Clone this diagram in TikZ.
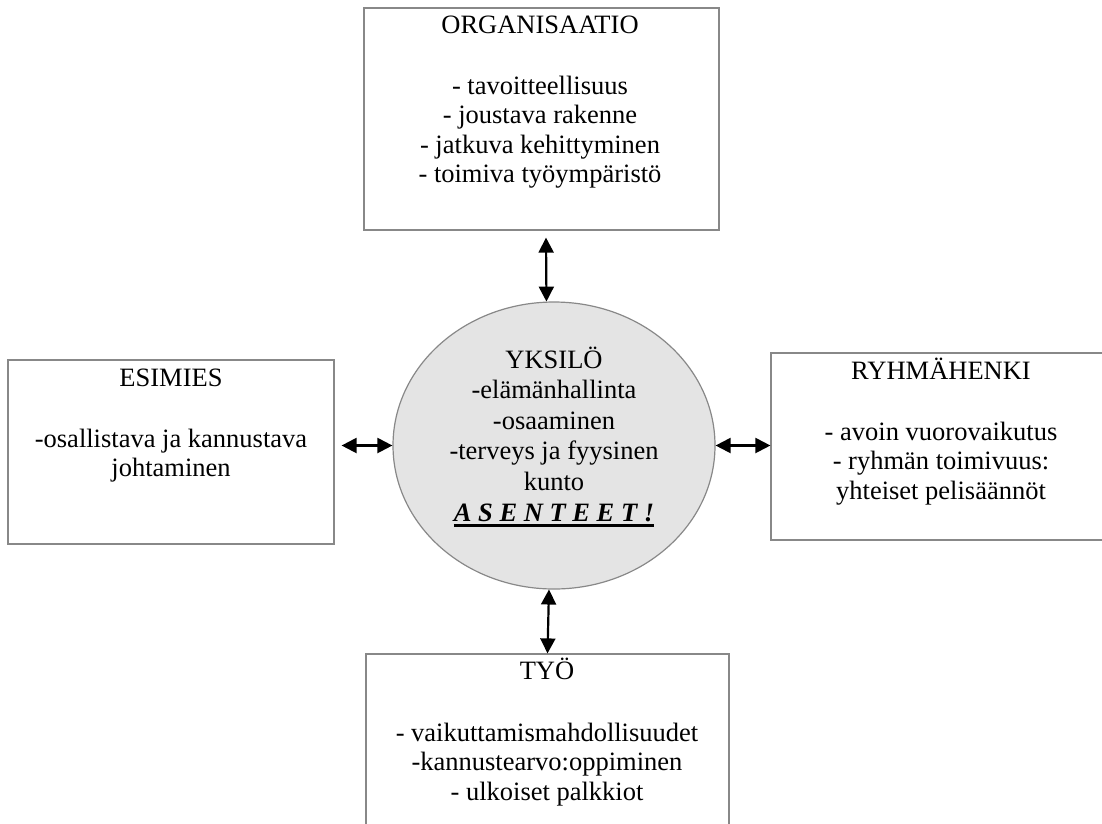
\documentclass[tikz,border=0pt]{standalone}
\usepackage{fontspec}
\setmainfont{Liberation Serif}
\usetikzlibrary{arrows.meta,shapes.geometric,calc}

\definecolor{framegray}{RGB}{136,136,136}
\definecolor{discfill}{RGB}{228,228,228}

% thick underline drawn as a rule below the boxed text
\newcommand\heavyunderline[1]{\setbox0\hbox{#1}\leavevmode\rlap{\rule[-5pt]{\wd0}{2.5pt}}\box0}

\tikzset{
  panel/.style={draw=framegray, line width=1.2pt, fill=white, inner sep=0pt},
  disc/.style={ellipse, draw=framegray, line width=1.2pt, fill=discfill, inner sep=0pt},
  caption/.style={anchor=base, inner sep=0pt, font=\fontsize{26.5}{29.5}\selectfont},
  link/.style={{Triangle[length=15pt,width=15pt]}-{Triangle[length=15pt,width=15pt]}, line width=2.2pt, black}
}

\begin{document}
\begin{tikzpicture}[x=1pt,y=-1pt]
\useasboundingbox (0,0) rectangle (1102,823);

% frames
\node[panel, minimum width=355pt, minimum height=222pt] (org) at (541.5,119) {};
\node[panel, minimum width=326pt, minimum height=184pt] (esi) at (171,452) {};
\node[panel, minimum width=340pt, minimum height=187pt] (ryh) at (941,446.5) {};
\node[panel, minimum width=363pt, minimum height=200pt] (tyo) at (547.5,754) {};
\node[disc, minimum width=322pt, minimum height=287pt] (yks) at (554,445.5) {};

% texts
\node[caption] (orgtext) at (540,33) {\begin{tabular}[t]{@{}c@{}}ORGANISAATIO\\ \\[2pt]
- tavoitteellisuus\\ - joustava rakenne\\ - jatkuva kehittyminen\\ - toimiva työympäristö\end{tabular}};
\node[caption] (esitext) at (171,386) {\begin{tabular}[t]{@{}c@{}}ESIMIES\\ \\[2pt]
-osallistava ja kannustava\\ johtaminen\end{tabular}};
\node[caption] (ryhtext) at (941,379) {\begin{tabular}[t]{@{}c@{}}RYHMÄHENKI\\ \\[2pt]
- avoin vuorovaikutus\\ - ryhmän toimivuus:\\ yhteiset pelisäännöt\end{tabular}};
\node[caption] (tyotext) at (547,679) {\begin{tabular}[t]{@{}c@{}}TYÖ\\ \\[3pt]
- vaikuttamismahdollisuudet\\ -kannustearvo:oppiminen\\ - ulkoiset palkkiot\end{tabular}};
\node[caption, font=\fontsize{26.5}{30.5}\selectfont] (ykstext) at (554,368) {\begin{tabular}[t]{@{}c@{}}YKSILÖ\\
-elämänhallinta\\ -osaaminen\\ -terveys ja fyysinen\\ kunto\\[1pt]
\heavyunderline{\bfseries\itshape A S E N T E E T !}\end{tabular}};

% connectors
\draw[link] ([xshift=4.5pt,yshift=-7pt]org.south) -- (yks.93);
\draw[link] (yks.268) -- (tyo.north);
\draw[link, shorten <=7pt] (esi.east |- yks.west) -- (yks.west);
\draw[link] (yks.east) -- (yks.east -| ryh.west);
\end{tikzpicture}
\end{document}
